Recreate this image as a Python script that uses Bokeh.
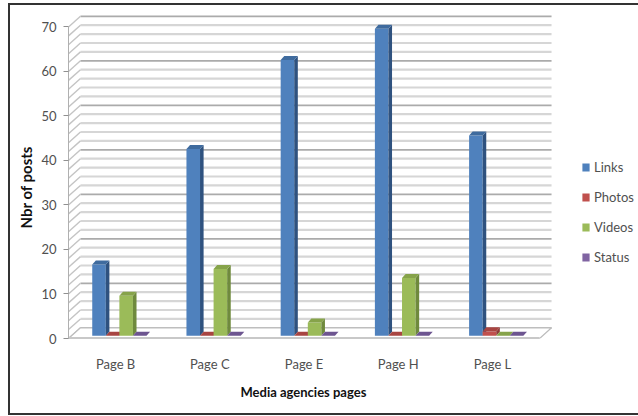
from bokeh.embed import file_html
from bokeh.resources import INLINE
from bokeh.plotting import figure
from bokeh.models import FixedTicker, InlineStyleSheet, Legend, LegendItem, Range1d, Title
import numpy as np

pages = ["Page B", "Page C", "Page E", "Page H", "Page L"]
links = [16, 42, 62, 69, 45]
photos = [0, 0, 0, 0, 1]
videos = [9, 15, 3, 13, 0]
status = [0, 0, 0, 0, 0]
series_names = ["Links", "Photos", "Videos", "Status"]
face_colors = ["#4F81BD", "#C0504D", "#9BBB59", "#8064A2"]
side_colors = ["#2F527F", "#8E3A37", "#6F8A3D", "#5C4679"]
top_colors = ["#3F6B9E", "#A84542", "#86A34A", "#6D5590"]
y_ticks = [0, 10, 20, 30, 40, 50, 60, 70]

# Oblique projection of the chart box, expressed in axis units
DEPTH_X, DEPTH_Y = 0.127, 2.4
BAR_DX, BAR_DY = 0.038, 0.9
INSET_X, INSET_Y = 0.04, 0.6
BAR_W = 0.144
TEXT = "#505050"
FONT = "Lato"

# The outer frame is open on the right and runs off the page there
frame_css = InlineStyleSheet(css="""
:host::after {
  content: ""; position: absolute; left: 8px; top: 3px; width: 700px; height: 408px;
  border: 2px solid #333333; pointer-events: none;
}
:host { overflow: hidden; }
""")

p = figure(width=638, height=416, output_backend="svg", toolbar_location=None,
           x_range=Range1d(0, 6.05), y_range=Range1d(0, 72.8),
           min_border_left=68, min_border_right=0, min_border_top=14, min_border_bottom=78,
           stylesheets=[frame_css])
p.outline_line_color = None
p.grid.visible = False

# Back wall and side wall rules, heavier on every tenth value
levels = np.arange(0, 72, 2)
is_major = levels % 10 == 0
for mask, color, width in ((~is_major, "#D6D6D6", 2.2), (is_major, "#ABABAB", 1.7)):
    lv = levels[mask]
    p.segment(x0=DEPTH_X, x1=5 + DEPTH_X, y0=lv + DEPTH_Y, y1=lv + DEPTH_Y,
              line_color=color, line_width=width)
    p.segment(x0=0, x1=DEPTH_X, y0=lv, y1=lv + DEPTH_Y, line_color="#C4C4C4", line_width=1.4)

# Floor of the box
p.patch([0, DEPTH_X, 5 + DEPTH_X, 5], [0, DEPTH_Y, DEPTH_Y, 0],
        fill_color="white", line_color="#BDBDBD", line_width=1.2)
p.segment(x0=[0], x1=[5], y0=[0], y1=[0], line_color="#C8C8C8", line_width=3)

renderers = []
all_series = [links, photos, videos, status]
for s, values in enumerate(all_series):
    vals = np.array(values, dtype=float)
    left = np.arange(5) + 0.5 - 2 * BAR_W + s * BAR_W + INSET_X
    right = left + BAR_W
    base = INSET_Y
    top = base + vals
    renderers.append(p.vbar(x=(left + right) / 2, width=BAR_W, bottom=base, top=top,
                            fill_color=face_colors[s], line_color=None))
    p.patches([[r, r + BAR_DX, r + BAR_DX, r] for r, t in zip(right, top)],
              [[base, base + BAR_DY, t + BAR_DY, t] for t in top],
              fill_color=side_colors[s], line_color=None)
    p.patches([[l, l + BAR_DX, r + BAR_DX, r] for l, r in zip(left, right)],
              [[t, t + BAR_DY, t + BAR_DY, t] for t in top],
              fill_color=top_colors[s], line_color=None)

# Axes
p.yaxis.bounds = (0, 70)
p.yaxis.ticker = FixedTicker(ticks=y_ticks)
p.yaxis.major_label_text_font = FONT
p.yaxis.major_label_text_font_size = "13px"
p.yaxis.major_label_text_color = TEXT
p.yaxis.major_label_standoff = 7
p.yaxis.axis_line_color = "#B0B0B0"
p.yaxis.major_tick_line_color = "#909090"
p.yaxis.major_tick_out = 5
p.yaxis.major_tick_in = 0
p.yaxis.minor_tick_line_color = None

p.xaxis.bounds = (0, 5)
p.xaxis.ticker = FixedTicker(ticks=[0.5, 1.5, 2.5, 3.5, 4.5])
p.xaxis.major_label_overrides = {i + 0.5: name for i, name in enumerate(pages)}
p.xaxis.major_label_text_font = FONT
p.xaxis.major_label_text_font_size = "13px"
p.xaxis.major_label_text_color = TEXT
p.xaxis.major_label_standoff = 11
p.xaxis.axis_line_color = "#C8C8C8"
p.xaxis.major_tick_line_color = None
p.xaxis.minor_tick_line_color = None

# Axis titles are positioned along their sides, off the centre of the frame
p.add_layout(Title(text="Media agencies pages", align="left", offset=172,
                   text_font=FONT, text_font_size="13px", text_font_style="bold",
                   text_color="#111111", standoff=14), "below")
p.add_layout(Title(text="Nbr of posts", align="left", offset=110,
                   text_font=FONT, text_font_size="15px", text_font_style="bold",
                   text_color="#111111", standoff=7), "left")

legend = Legend(items=[LegendItem(label=n, renderers=[r]) for n, r in zip(series_names, renderers)],
                location=(513, 73), orientation="vertical", background_fill_alpha=0,
                border_line_color=None, glyph_width=9, glyph_height=10, spacing=14,
                label_height=16, margin=0, padding=0, label_standoff=4,
                label_text_font=FONT, label_text_font_size="13px", label_text_color=TEXT)
p.add_layout(legend)

open("out.html", "w").write(file_html(p, INLINE))
